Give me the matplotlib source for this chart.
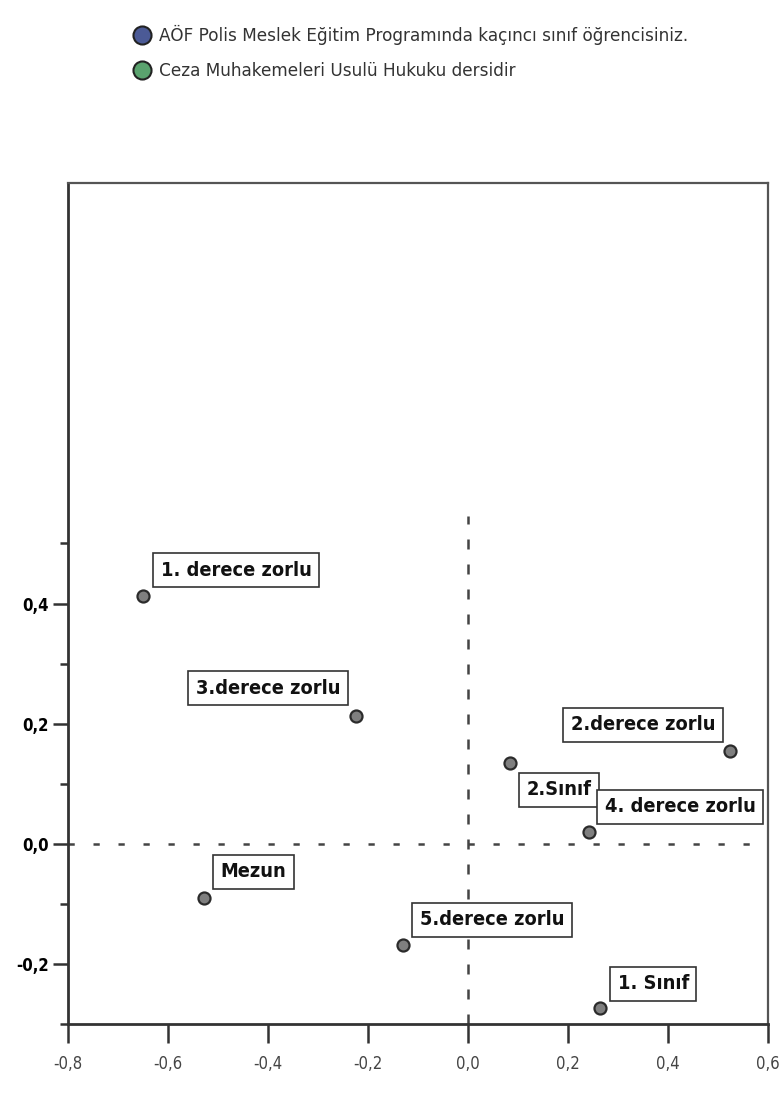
import matplotlib
matplotlib.use("Agg")
from matplotlib import pyplot as plt
from matplotlib.lines import Line2D
from matplotlib.ticker import FuncFormatter, FixedLocator

# kategoriler ve koordinatlar (boyut 1, boyut 2)
etiketler = ["1. derece zorlu", "3.derece zorlu", "2.derece zorlu", "2.Sınıf",
             "4. derece zorlu", "5.derece zorlu", "1. Sınıf", "Mezun"]
boyut1 = [-0.650, -0.224, 0.524, 0.084, 0.242, -0.130, 0.264, -0.528]
boyut2 = [0.412, 0.212, 0.155, 0.135, 0.020, -0.168, -0.273, -0.090]

legend_labels = ["AÖF Polis Meslek Eğitim Programında kaçıncı sınıf öğrencisiniz.",
                 "Ceza Muhakemeleri Usulü Hukuku dersidir"]
legend_colors = ["#4b5a96", "#5aa36e"]

x_ticks = [-0.8, -0.6, -0.4, -0.2, 0.0, 0.2, 0.4, 0.6]
y_ticks = [-0.2, 0.0, 0.2, 0.4]
y_minor = [-0.3, -0.1, 0.1, 0.3, 0.5]

# etiket kutusu yerleşimi: (dx, dy piksel, ha, va)
yer = [(10, 9, "left", "bottom"), (-8, 11, "right", "bottom"), (-7, 9, "right", "bottom"),
       (9, -10, "left", "top"), (8, 8, "left", "bottom"), (9, 8, "left", "bottom"),
       (10, 7, "left", "bottom"), (9, 9, "left", "bottom")]

fig = plt.figure(figsize=(7.8, 11.08), dpi=100)
ax = fig.add_axes([68 / 780, 1 - 1024 / 1108, 700 / 780, 841 / 1108])

ax.set_xlim(-0.8, 0.6)
ax.set_ylim(-0.3, 1.1)

# referans çizgileri
ax.axhline(0, color="#444444", lw=1.8, dashes=(2.5, 7.5), zorder=1)
ax.vlines(0, -0.3, 0.545, color="#444444", lw=1.8, linestyles=(0, (4, 6)), zorder=1)

ax.scatter(boyut1, boyut2, s=75, c="#7f7f7f", edgecolors="#2b2b2b", linewidths=1.6, zorder=3)

fs = 14.3
pad_px = 0.38 * fs * 100 / 72
for lab, x, y, (dx, dy, ha, va) in zip(etiketler, boyut1, boyut2, yer):
    ox = dx + pad_px if ha == "left" else dx - pad_px
    oy = dy + pad_px if va == "bottom" else dy - pad_px
    ax.annotate(lab, (x, y), xytext=(ox, oy), textcoords="offset pixels",
                ha=ha, va=va, fontsize=fs, fontweight="bold", fontstretch="condensed",
                family="DejaVu Sans", color="#111111", zorder=4,
                bbox=dict(boxstyle="square,pad=0.38", fc="white", ec="#333333", lw=1.2))

# eksenler
ax.xaxis.set_major_locator(FixedLocator(x_ticks))
ax.yaxis.set_major_locator(FixedLocator(y_ticks))
ax.yaxis.set_minor_locator(FixedLocator(y_minor))
virgul = FuncFormatter(lambda v, p: f"{v:.1f}".replace(".", ",").replace("-0,0", "0,0"))
ax.xaxis.set_major_formatter(virgul)
ax.yaxis.set_major_formatter(virgul)
ax.tick_params(axis="x", direction="out", length=14, width=1.8, color="#333333",
               labelsize=12, labelcolor="#444444", pad=8)
ax.tick_params(axis="y", which="major", direction="out", length=11, width=1.8,
               color="#333333", labelsize=12, pad=3)
ax.tick_params(axis="y", which="minor", direction="out", length=6, width=1.8, color="#333333")
for t in ax.get_xticklabels():
    t.set_fontstretch("condensed")
for t in ax.get_yticklabels():
    t.set_fontstretch("condensed")
    t.set_fontweight("bold")

for s in ["left", "bottom"]:
    ax.spines[s].set_color("#333333")
    ax.spines[s].set_linewidth(2)
for s in ["top", "right"]:
    ax.spines[s].set_color("#555555")
    ax.spines[s].set_linewidth(1.6)

# lejant
handles = [Line2D([], [], marker="o", ls="", markersize=13, markerfacecolor=c,
                  markeredgecolor="#222222", markeredgewidth=1.5) for c in legend_colors]
fig.legend(handles, legend_labels, loc="upper left", bbox_to_anchor=(134 / 780, 1 - 25 / 1108),
           frameon=False, fontsize=12.2, labelcolor="#333333", handletextpad=0.45,
           labelspacing=1.0, handlelength=1.0, borderpad=0, borderaxespad=0)

plt.savefig("out.png", dpi=100)
